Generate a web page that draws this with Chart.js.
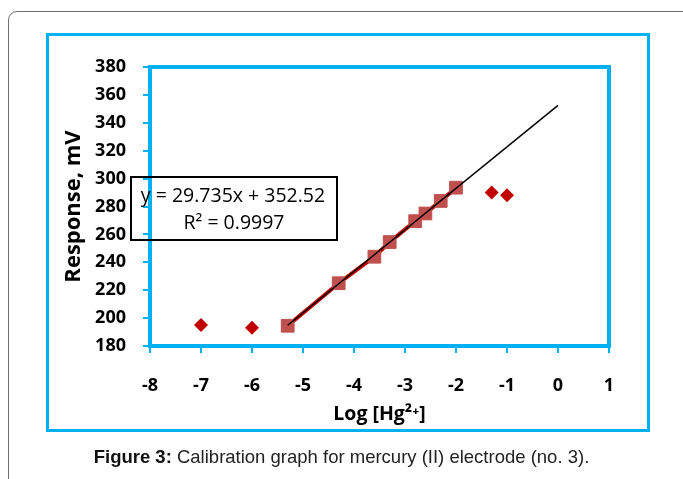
<!DOCTYPE html>
<html>
<head>
<meta charset="utf-8">
<script src="https://cdn.jsdelivr.net/npm/chart.js@4.4.1/dist/chart.umd.min.js"></script>
<style>
  html, body { margin: 0; padding: 0; background: #fff; }
  #wrap { position: relative; width: 683px; height: 479px; overflow: hidden; }
  #frame {
    position: absolute; left: 8px; top: 11px; width: 690px; height: 480px;
    border: 1.5px solid #6f6f6f; border-radius: 9px; box-sizing: border-box;
  }
  #box {
    position: absolute; left: 46px; top: 33px; width: 604px; height: 399px;
    border: 3px solid #00B0F0; box-sizing: border-box;
  }
  #chart { position: absolute; left: 0; top: 0; }
  #caption {
    position: absolute; left: 0; width: 683px; top: 446px; text-align: center;
    font-family: "Liberation Sans", Arial, sans-serif; font-size: 18.5px; color: #222;
  }
  #caption b { color: #111; }
</style>
</head>
<body>
<div id="wrap">
  <div id="frame"></div>
  <div id="box"></div>
  <canvas id="chart" width="683" height="479"></canvas>
  <div id="caption"><b>Figure 3:</b> Calibration graph for mercury (II) electrode (no. 3).</div>
</div>
<script>
// points outside the linear range (diamonds)
const outX = [-7, -6, -1.3, -1];
const outY = [195, 193, 290, 288];

// calibration points in the linear range (squares)
const linX = [-5.3, -4.3, -3.6, -3.3, -2.8, -2.6, -2.3, -2];
const linY = [194.5, 225, 244, 254.5, 269.5, 275, 284, 293.5];

// trendline endpoints as drawn
const trendX = [-5.3, 0];
const trendY = [194.9, 352.5];

const xTicks = [-8, -7, -6, -5, -4, -3, -2, -1, 0, 1];
const yTicks = [180, 200, 220, 240, 260, 280, 300, 320, 340, 360, 380];

const eqLines = ["y = 29.735x + 352.52", "R\u00B2 = 0.9997"];

const BLUE = "#00B0F0";
const FONT = "'Open Sans', 'Liberation Sans', sans-serif";

const toXY = (xs, ys) => xs.map((x, i) => ({ x: x, y: ys[i] }));

// equation box, no fill: the axis shows through it like in the original
const eqBox = {
  id: "eqBox",
  afterDraw(chart) {
    const ctx = chart.ctx;
    ctx.save();
    ctx.lineWidth = 2;
    ctx.strokeStyle = "#000";
    ctx.strokeRect(131, 177, 206, 63);
    ctx.fillStyle = "#000";
    ctx.font = "19.5px " + FONT;
    ctx.textAlign = "center";
    ctx.textBaseline = "middle";
    ctx.fillText(eqLines[0], 233, 196);
    ctx.fillText(eqLines[1], 234, 223);
    ctx.restore();
  }
};

// blue frame round the plot area
const plotFrame = {
  id: "plotFrame",
  beforeDatasetsDraw(chart) {
    const a = chart.chartArea;
    const ctx = chart.ctx;
    ctx.save();
    ctx.lineWidth = 4;
    ctx.strokeStyle = BLUE;
    ctx.strokeRect(a.left, a.top, a.right - a.left, a.bottom - a.top);
    ctx.restore();
  }
};

new Chart(document.getElementById("chart"), {
  type: "scatter",
  data: {
    datasets: [
      {
        label: "trend",
        data: toXY(trendX, trendY),
        showLine: true,
        borderColor: "#000",
        borderWidth: 1.5,
        pointRadius: 0,
        order: 0
      },
      {
        label: "linear",
        data: toXY(linX, linY),
        showLine: true,
        borderColor: "#C00000",
        borderWidth: 4,
        pointStyle: "rect",
        pointRadius: 9,
        pointBackgroundColor: "#C0504D",
        pointBorderColor: "#C0504D",
        pointBorderWidth: 1,
        order: 1
      },
      {
        label: "outside",
        data: toXY(outX, outY),
        showLine: false,
        pointStyle: "rectRot",
        pointRadius: 7,
        backgroundColor: "#C00000",
        borderColor: "#C00000",
        borderWidth: 0,
        order: 2
      }
    ]
  },
  plugins: [eqBox, plotFrame],
  options: {
    responsive: false,
    animation: false,
    layout: { padding: { left: 52, right: 74, top: 67, bottom: 48 } },
    plugins: {
      legend: { display: false },
      tooltip: { enabled: false }
    },
    scales: {
      x: {
        type: "linear",
        min: -8,
        max: 1,
        afterFit: (scale) => { scale.height = 85; },
        afterBuildTicks: (scale) => { scale.ticks = xTicks.map(v => ({ value: v })); },
        grid: { drawOnChartArea: false, drawTicks: true, tickLength: 7, color: BLUE, lineWidth: 2 },
        border: { color: BLUE, width: 4 },
        ticks: {
          color: "#000",
          padding: 22,
          font: { family: FONT, size: 18, weight: "bold" }
        },
        title: {
          display: true,
          text: "Log [Hg\u00B2\u207A]",
          color: "#000",
          padding: { top: 0, bottom: 5 },
          font: { family: FONT, size: 19.5, weight: "bold" }
        }
      },
      y: {
        min: 180,
        max: 380,
        afterFit: (scale) => { scale.width = 98; },
        afterBuildTicks: (scale) => { scale.ticks = yTicks.map(v => ({ value: v })); },
        grid: { drawOnChartArea: false, drawTicks: true, tickLength: 7, color: BLUE, lineWidth: 2 },
        border: { color: BLUE, width: 4 },
        ticks: {
          color: "#000",
          padding: 17,
          font: { family: FONT, size: 18, weight: "bold" }
        },
        title: {
          display: true,
          text: "Response, mV",
          color: "#000",
          padding: { top: 9, bottom: 0 },
          font: { family: FONT, size: 22, weight: "bold" }
        }
      }
    }
  }
});
</script>
</body>
</html>
